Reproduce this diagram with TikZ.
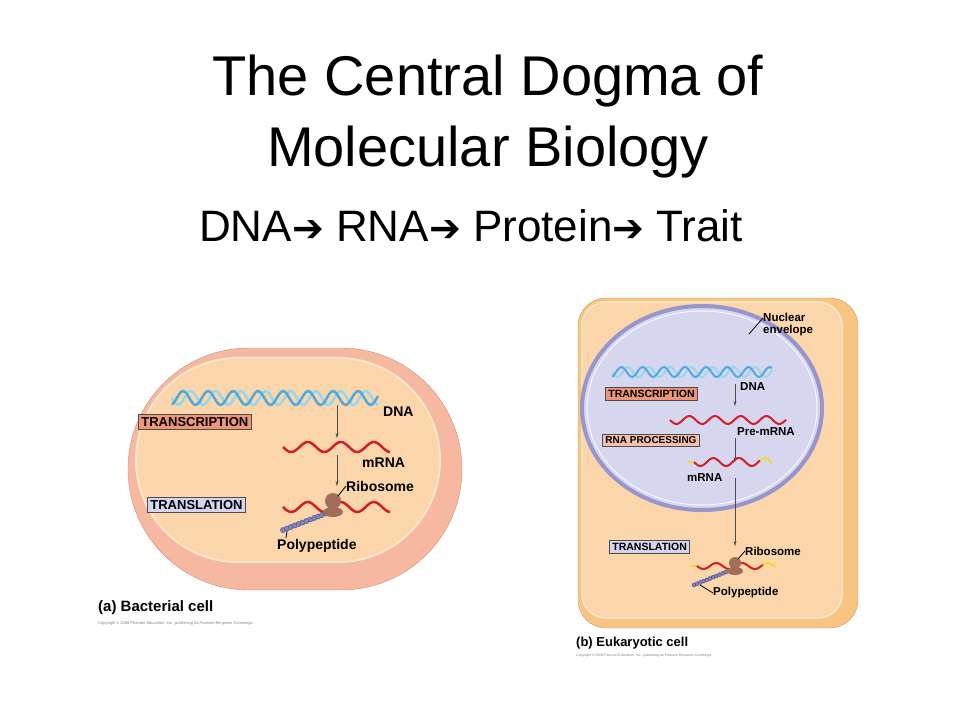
\documentclass[tikz,border=0pt]{standalone}
\usepackage{fontspec}
\setmainfont{Liberation Sans}
\newfontfamily\symfont{DejaVu Sans}
\usetikzlibrary{arrows.meta}
\newcommand{\dogarrow}{{\symfont\bfseries\fontsize{38}{40}\selectfont ➔}}
\begin{document}
\begin{tikzpicture}[x=1pt,y=-1pt,
  stepbox/.style={draw=black!70,thick,inner xsep=3pt,inner ysep=3pt,font=\bfseries\fontsize{13}{13}\selectfont},
  estepbox/.style={stepbox,inner ysep=2.5pt,font=\bfseries\fontsize{10.5}{11}\selectfont},
  lbl/.style={font=\bfseries\fontsize{14}{15}\selectfont,inner sep=0pt,align=left},
  elbl/.style={lbl,font=\bfseries\fontsize{11.5}{12}\selectfont},
  flow/.style={-{Stealth[length=5pt,width=3pt]},black!70}]
  % colors
  \definecolor{kSalmon}{RGB}{240,150,120}
  \definecolor{kLav}{RGB}{212,214,240}
  \definecolor{kPink}{RGB}{246,184,160}
  \definecolor{kCyto}{RGB}{250,214,170}
  \definecolor{kOrange}{RGB}{248,196,130}
  \definecolor{kNuc}{RGB}{214,214,238}
  \definecolor{kNucRim}{RGB}{150,150,205}
  \definecolor{kDnaA}{RGB}{80,170,220}
  \definecolor{kDnaB}{RGB}{150,215,240}
  \definecolor{kRed}{RGB}{210,30,40}
  \definecolor{kRibo}{RGB}{160,110,90}
  \definecolor{kBead}{RGB}{130,130,200}
  \definecolor{kYel}{RGB}{245,215,40}
  \useasboundingbox (0,0) rectangle (960,720);
  % title
  \node[font=\fontsize{56}{71}\selectfont,align=center] (title) at (488,117) {The Central Dogma of\\Molecular Biology};
  \node[font=\fontsize{44}{48}\selectfont,anchor=west,inner sep=0pt] (dogma) at (199,226)
    {DNA\dogarrow{} RNA\dogarrow{} Protein\dogarrow{} Trait};
  % bacterial cell
  \draw[fill=kPink,draw=kPink!80!black,rounded corners=121] (128,348) rectangle (462,590);
  \draw[fill=kCyto,draw=kCyto!60!white,line width=2pt,rounded corners=102] (136,358) rectangle (440,562);
  \draw[kDnaB,line width=2.5pt] plot[domain=172:378,samples=90] (\x,{398+7*sin((\x-172)*14.4)});
  \draw[kDnaA,line width=2.5pt] plot[domain=172:378,samples=90] (\x,{398+7*sin((\x-172)*14.4+110)});
  \node[stepbox,fill=kSalmon,anchor=west] (btrans) at (138,422) {TRANSCRIPTION};
  \node[lbl,anchor=west] (bdna) at (383,412) {DNA};
  \coordinate (ba1) at (337,405);
  \coordinate (ba2) at (337,438);
  \draw[flow] (ba1) -- (ba2);
  \draw[kRed,line width=2.5pt] plot[domain=283:390,samples=60] (\x,{447+5*sin((\x-283)*10.9)});
  \node[lbl,anchor=west] (bmrna) at (362,463) {mRNA};
  \coordinate (ba3) at (337,455);
  \coordinate (ba4) at (337,486);
  \draw[flow] (ba3) -- (ba4);
  \node[lbl,anchor=west] (bribo) at (346,486) {Ribosome};
  \node[stepbox,fill=kLav,anchor=west] (btransl) at (147,505) {TRANSLATION};
  \draw[kRed,line width=2.5pt] plot[domain=283:390,samples=60] (\x,{507+5*sin((\x-283)*10.9)});
  \foreach \i in {0,...,11}
    \draw[fill=kBead,draw=kBead!60!black] ({283+\i*3.9},{530-\i*1.5}) circle (2.6);
  \fill[kRibo] (333,512) ellipse (10 and 5);
  \fill[kRibo] (333,501) circle (8);
  \draw[thick] (bribo.west) -- (338,496);
  \node[lbl,anchor=west] (bpoly) at (277,546) {Polypeptide};
  \draw[thick] (286,538) -- (287,531);
  \node[lbl,anchor=west,font=\bfseries\fontsize{15}{15}\selectfont] (bcap) at (98,608) {(a) Bacterial cell};
  \node[anchor=west,inner sep=0pt,font=\fontsize{4}{4}\selectfont,gray] (bcopy) at (98,623) {Copyright © 2008 Pearson Education, Inc., publishing as Pearson Benjamin Cummings.};
  % eukaryotic cell
  \draw[fill=kOrange,draw=kOrange!80!black,rounded corners=28] (578,298) rectangle (858,628);
  \draw[fill=kCyto,draw=kCyto!70!white,line width=2pt,rounded corners=24] (582,302) rectangle (842,618);
  \draw[fill=kNuc,draw=kNucRim,line width=4pt] (702,408) ellipse (120 and 102);
  \draw[white!80!kNuc,line width=1pt] (702,408) ellipse (115 and 97);
  \node[elbl,anchor=west] (enuc) at (763,325) {Nuclear\\envelope};
  \draw[thick] (749,334) -- (763,318);
  \draw[kDnaB,line width=2pt] plot[domain=612:772,samples=90] (\x,{372+5*sin((\x-612)*17)});
  \draw[kDnaA,line width=2pt] plot[domain=612:772,samples=90] (\x,{372+5*sin((\x-612)*17+110)});
  \node[estepbox,fill=kSalmon,anchor=west] (etrans) at (605,394) {TRANSCRIPTION};
  \node[elbl,anchor=west] (edna) at (740,387) {DNA};
  \coordinate (ea1) at (735,384);
  \coordinate (ea2) at (735,406);
  \draw[flow] (ea1) -- (ea2);
  \draw[kRed,line width=2pt] plot[domain=670:786,samples=60] (\x,{420+4*sin((\x-670)*14)});
  \node[elbl,anchor=west] (epre) at (737,432) {Pre-mRNA};
  \node[estepbox,fill=kSalmon!60!white,anchor=west,font=\bfseries\fontsize{10}{10}\selectfont] (eproc) at (602,440) {RNA PROCESSING};
  \coordinate (ea3) at (735,438);
  \coordinate (ea4) at (735,462);
  \draw[flow] (ea3) -- (ea4);
  \draw[kYel,line width=2pt] (688,462) -- (694,462);
  \draw[kRed,line width=2pt] plot[domain=694:760,samples=50] (\x,{462+4*sin((\x-694)*14)});
  \draw[kYel,line width=2pt] plot[domain=760:772,samples=10] (\x,{462+4*sin((\x-694)*14)});
  \node[elbl,anchor=west] (emrna) at (687,478) {mRNA};
  \coordinate (ea5) at (735,478);
  \coordinate (ea6) at (735,546);
  \draw[flow] (ea5) -- (ea6);
  \node[estepbox,fill=kLav,anchor=west] (etransl) at (609,547) {TRANSLATION};
  \node[elbl,anchor=west] (eribo) at (745,551) {Ribosome};
  \draw[kYel,line width=2pt] (690,566) -- (697,566);
  \draw[kRed,line width=2pt] plot[domain=697:763,samples=50] (\x,{566+3*sin((\x-697)*14)});
  \draw[kYel,line width=2pt] plot[domain=763:775,samples=10] (\x,{566+3*sin((\x-697)*14)});
  \foreach \i in {0,...,10}
    \draw[fill=kBead,draw=kBead!60!black] ({694+\i*3.2},{585-\i*1.3}) circle (2);
  \fill[kRibo] (735,571) ellipse (8 and 4);
  \fill[kRibo] (735,563) circle (6);
  \draw[thick] (eribo.west) -- (738,559);
  \node[elbl,anchor=west] (epoly) at (713,593) {Polypeptide};
  \draw[thick] (epoly.west) -- (700,585);
  \node[lbl,anchor=west,font=\bfseries\fontsize{13}{13}\selectfont] (ecap) at (576,643) {(b) Eukaryotic cell};
  \node[anchor=west,inner sep=0pt,font=\fontsize{3.5}{4}\selectfont,gray] (ecopy) at (576,656) {Copyright © 2008 Pearson Education, Inc., publishing as Pearson Benjamin Cummings.};
\end{tikzpicture}
\end{document}
